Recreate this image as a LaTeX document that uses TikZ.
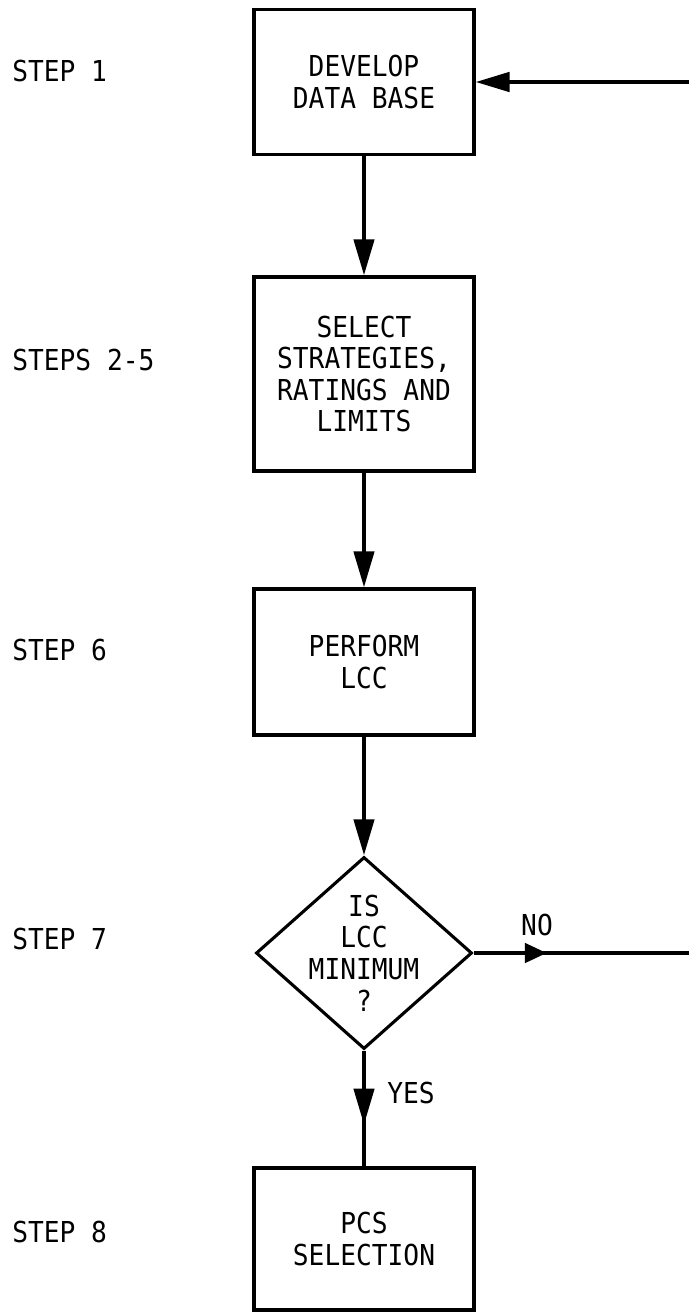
\documentclass[tikz,border=0pt]{standalone}
\usepackage{fontspec}
\newfontfamily\plotfont[FakeStretch=0.91]{DejaVu Sans Mono}
\usetikzlibrary{arrows.meta, positioning, shapes.geometric, decorations.markings}

\begin{document}
\begin{tikzpicture}[x=0.025cm, y=-0.025cm,
        stepbox/.style={rectangle, draw, line width=2.2pt, minimum width=5.5cm, minimum height=#1, align=center, font=\plotfont\fontsize{20.5}{22.5}\selectfont},
        decision/.style={diamond, draw, line width=2.2pt, minimum width=5.4cm, minimum height=4.8cm, inner sep=0pt},
        plain/.style={font=\plotfont\fontsize{20.5}{22.5}\selectfont, align=center, inner sep=0pt},
        steplabel/.style={plain, anchor=west},
        flow/.style={line width=3pt, -{Triangle[length=0.9cm, width=0.5cm]}},
        midarrow/.style={line width=3pt, postaction={decorate}, decoration={markings, mark=at position #1 with {\arrow{Triangle[length=0.9cm, width=0.5cm]}}}},
        shortarrow/.style={line width=3pt, postaction={decorate}, decoration={markings, mark=at position #1 with {\arrow{Triangle[length=0.55cm, width=0.48cm]}}}}
    ]
        \path[use as bounding box, fill=white] (0,0) rectangle (689,1314);

        % Step labels
        \node[steplabel] (s1) at (12, 71) {STEP 1};
        \node[steplabel] (s2) at (12, 360) {STEPS 2-5};
        \node[steplabel] (s6) at (12, 650) {STEP 6};
        \node[steplabel] (s7) at (12, 939) {STEP 7};
        \node[steplabel] (s8) at (12, 1232) {STEP 8};

        % Flow
        \node[stepbox=3.625cm] (dev) at (364, 82) {DEVELOP\\DATA BASE};
        \node[stepbox=4.85cm] (sel) at (364, 374) {SELECT\\STRATEGIES,\\RATINGS AND\\LIMITS};
        \node[stepbox=3.65cm] (lcc) at (364, 662) {PERFORM\\LCC};
        \node[decision] (dec) at (364, 953) {};
        \node[plain] (dectext) at (dec.center) {IS\\LCC\\MINIMUM\\?};
        \node[stepbox=3.55cm] (pcs) at (364, 1239) {PCS\\SELECTION};

        \draw[flow] (dev) -- (sel);
        \draw[flow] (sel) -- (lcc);
        \draw[flow] (lcc) -- (dec);
        \draw[midarrow=0.64] (dec.south) -- (pcs.north);
        \node[plain, anchor=west] (yes) at (387, 1093) {YES};

        % Loop back
        \coordinate (out) at (689, 953);
        \coordinate (back) at (689, 82);
        \draw[shortarrow=0.34] (dec.east) -- (out);
        \node[plain] (no) at (537, 925) {NO};
        \draw[line width=3pt, -{Triangle[length=0.85cm, width=0.48cm]}] (back) -- (dev.east);
    \end{tikzpicture}
\end{document}
